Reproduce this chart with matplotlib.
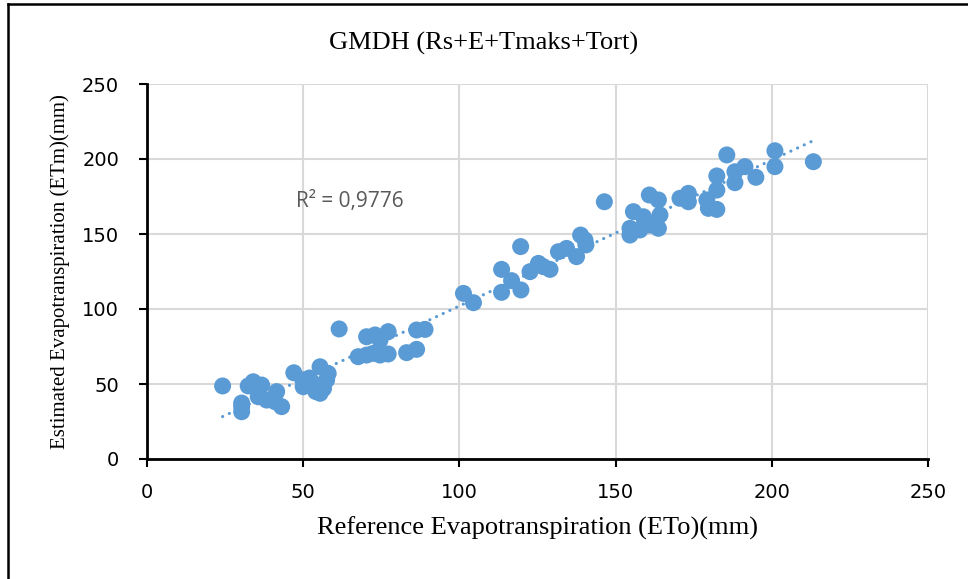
import numpy as np
import matplotlib.pyplot as plt
from matplotlib.lines import Line2D

# reference ETo (mm) and estimated ETm (mm)
eto = [24.2, 30.3, 30.3, 30.3, 32.4, 34.0, 36.7, 35.6, 38.3, 41.5, 41.0, 43.1,
       47.0, 50.0, 50.0, 53.2, 54.3, 55.4, 55.4, 58.0, 57.5, 52.0, 56.5, 54.0,
       61.5, 67.6, 70.3, 72.4, 74.6, 77.2, 70.3, 73.0, 74.6, 77.2,
       83.1, 86.3, 86.3, 89.0,
       101.3, 104.5, 113.5, 113.5, 116.7, 119.6, 119.7, 122.6, 125.3, 126.9, 129.0,
       131.7, 134.3, 137.5, 138.8, 140.2, 140.5, 146.4,
       154.6, 154.6, 155.7, 157.8, 158.9, 160.8, 161.0, 163.7, 164.2, 163.7,
       170.6, 173.3, 173.3, 179.2, 179.7, 182.4, 182.4, 182.4, 185.6,
       188.2, 188.2, 191.4, 194.9, 201.0, 201.0, 213.3]
etm = [48.7, 34.9, 31.5, 37.3, 48.7, 51.5, 49.3, 41.5, 39.3, 44.9, 38.2, 34.9,
       57.5, 52.7, 48.2, 50.4, 46.0, 43.8, 61.5, 57.0, 52.7, 54.0, 47.0, 45.0,
       86.7, 68.2, 69.3, 70.4, 69.3, 70.0, 81.5, 82.7, 79.3, 84.9,
       70.9, 73.1, 86.0, 86.4,
       110.4, 104.2, 126.4, 111.1, 118.9, 141.6, 112.7, 124.9, 130.4, 128.2, 126.4,
       138.2, 140.4, 134.9, 149.3, 146.0, 142.7, 171.5,
       153.8, 149.3, 164.9, 152.7, 161.5, 176.0, 156.0, 172.7, 162.7, 153.8,
       173.8, 177.1, 171.5, 172.7, 167.1, 166.4, 179.3, 188.7, 202.7,
       191.5, 184.2, 194.9, 187.8, 205.5, 194.9, 198.2]

x_ticks = [0, 50, 100, 150, 200, 250]
y_ticks = [0, 50, 100, 150, 200, 250]

blue = '#5B9BD5'

fig = plt.figure(figsize=(9.68, 5.79), dpi=100)
ax = fig.add_axes([147 / 968, 1 - 459 / 579, 781 / 968, 375 / 579])

ax.scatter(eto, etm, s=150, color=blue, edgecolors='none', zorder=3)

# linear trendline
a, b = np.polyfit(eto, etm, 1)
xs = np.array([min(eto), max(eto)])
ax.plot(xs, a * xs + b, color=blue, linestyle=(0, (0.01, 2.3)), linewidth=2.3,
        dash_capstyle='round', zorder=4)

ax.text(65, 172, 'R² = 0,9776', color='#595959', fontsize=15,
        family='Open Sans', ha='center', va='center')

ax.set_xlim(0, 250)
ax.set_ylim(0, 250)
ax.set_xticks(x_ticks)
ax.set_yticks(y_ticks)
ax.grid(True, color='#d9d9d9', linewidth=1.5)
ax.set_axisbelow(True)
for s in ['top', 'right']:
    ax.spines[s].set_visible(False)
for s in ['left', 'bottom']:
    ax.spines[s].set_linewidth(2)
    ax.spines[s].set_color('black')
ax.tick_params(direction='out', length=6, width=1.5, labelsize=14)
ax.tick_params(axis='y', pad=14)
ax.tick_params(axis='x', pad=11)
for lab in ax.get_xticklabels() + ax.get_yticklabels():
    lab.set_family('DejaVu Sans')

ax.set_xlabel('Reference Evapotranspiration (ETo)(mm)', family='Liberation Serif',
              fontsize=19, va='center')
ax.xaxis.set_label_coords(0.5, (459 - 528) / 375)
ax.set_ylabel('Estimated Evapotranspiration (ETm)(mm)', family='Liberation Serif',
              fontsize=15, va='center')
ax.yaxis.set_label_coords((60 - 147) / 781, 0.5)
fig.text(0.5, 1 - 43 / 579, 'GMDH (Rs+E+Tmaks+Tort)', family='Liberation Serif',
         fontsize=19, ha='center', va='center')

# outer frame (top and left edges only)
fig.add_artist(Line2D([8 / 968, 8 / 968], [0, 1 - 4 / 579], color='black',
                      linewidth=1.8, transform=fig.transFigure))
fig.add_artist(Line2D([8 / 968, 1], [1 - 4 / 579, 1 - 4 / 579], color='black',
                      linewidth=1.8, transform=fig.transFigure))

fig.savefig('out.png', dpi=100)
